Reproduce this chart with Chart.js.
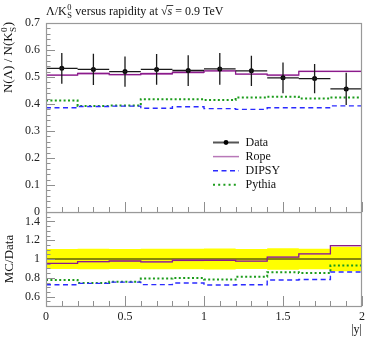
<!DOCTYPE html>
<html>
<head>
<meta charset="utf-8">
<script src="https://cdn.jsdelivr.net/npm/chart.js@4.4.1/dist/chart.umd.min.js"></script>
<style>
  body { margin: 0; background: #fff; }
  #wrap { position: relative; width: 374px; height: 338px; }
  canvas { position: absolute; left: 0; }
</style>
</head>
<body>
<div id="wrap">
  <canvas id="main" width="374" height="232" style="top:0"></canvas>
  <canvas id="ratio" width="374" height="126" style="top:212px"></canvas>
</div>
<script>
// |y| bins
const binEdges = [0, 0.2, 0.4, 0.6, 0.8, 1.0, 1.2, 1.4, 1.6, 1.8, 2.0];
const seriesNames = ['Data', 'Rope', 'DIPSY', 'Pythia'];

// measured Lambda/K0S ratio
const dataValues = [0.532, 0.528, 0.520, 0.528, 0.524, 0.530, 0.523, 0.497, 0.494, 0.456];
const dataErrors = [0.057, 0.058, 0.056, 0.057, 0.057, 0.059, 0.056, 0.057, 0.054, 0.060];

// generators
const ropeValues = [0.507, 0.513, 0.509, 0.512, 0.517, 0.523, 0.511, 0.507, 0.521, 0.521];
const ropeErrors = [0.003, 0.004, 0.003, 0.005, 0.005, 0.004, 0.003, 0.004, 0.003, 0.003];
const dipsyValues = [0.386, 0.391, 0.392, 0.384, 0.390, 0.383, 0.380, 0.386, 0.386, 0.393];
const pythiaValues = [0.413, 0.393, 0.394, 0.418, 0.418, 0.415, 0.424, 0.427, 0.420, 0.424];

const mainTicks = [0, 0.1, 0.2, 0.3, 0.4, 0.5, 0.6, 0.7];
const ratioTicks = [0.6, 0.8, 1, 1.2, 1.4];
const xTicks = [0, 0.5, 1, 1.5, 2];

const serif = '"Liberation Serif", "DejaVu Serif", serif';
Chart.defaults.font.family = serif;
Chart.defaults.font.size = 12;
Chart.defaults.color = '#222';

const colRope = '#8b1a8b';
const colRopeBand = 'rgba(190, 110, 190, 0.5)';
const colDipsy = '#2b2bff';
const colPythia = '#1c9c1c';

function steps(values) {
  return binEdges.map((x, i) => ({ x: x, y: values[Math.min(i, values.length - 1)] }));
}
function centres(values) {
  return values.map((v, i) => ({ x: (binEdges[i] + binEdges[i + 1]) / 2, y: v }));
}
function stepLine(label, values, color, width, dash) {
  return {
    label: label, data: steps(values), stepped: 'before',
    borderColor: color, borderWidth: width, borderDash: dash || [],
    pointRadius: 0, fill: false, order: 2
  };
}
function band(values, errors, color, order) {
  return [
    { data: steps(values.map((v, i) => v + errors[i])), stepped: 'before', borderWidth: 0, pointRadius: 0, fill: false, order: order },
    { data: steps(values.map((v, i) => v - errors[i])), stepped: 'before', borderWidth: 0, pointRadius: 0, fill: '-1', backgroundColor: color, order: order }
  ];
}
function ratioOf(values) {
  return values.map((v, i) => v / dataValues[i]);
}

// text with the K0S super/subscript and sqrt(s)
function richText(ctx, parts, x, y, size, draw) {
  let cx = x;
  parts.forEach(function(p) {
    if (typeof p === 'string') {
      ctx.font = size + 'px ' + serif;
      if (draw) ctx.fillText(p, cx, y);
      cx += ctx.measureText(p).width;
    } else if (p.sup !== undefined) {
      ctx.font = (size * 0.7) + 'px ' + serif;
      if (draw) {
        ctx.fillText(p.sup, cx + 0.5, y - size * 0.4);
        ctx.fillText(p.sub, cx + 0.5, y + size * 0.28);
      }
      cx += Math.max(ctx.measureText(p.sup).width, ctx.measureText(p.sub).width) + 1;
    } else {
      ctx.font = 'italic ' + size + 'px ' + serif;
      const w = ctx.measureText(p.text).width;
      if (draw) {
        ctx.fillText(p.text, cx, y);
        if (p.over) ctx.fillRect(cx - 1, y - size * 0.82, w + 2, 0.8);
      }
      cx += w;
    }
  });
  return cx - x;
}

function drawFrame(chart, yMajor, yMinor) {
  const ctx = chart.ctx, a = chart.chartArea;
  const x = chart.scales.x, y = chart.scales.y;
  ctx.save();
  ctx.strokeStyle = '#8f8f8f';
  ctx.lineWidth = 1;
  ctx.beginPath();
  const ny = Math.round((y.max - y.min) / yMinor);
  for (let k = 0; k <= ny; k++) {
    const v = y.min + k * yMinor;
    const major = Math.abs(v / yMajor - Math.round(v / yMajor)) < 1e-6;
    const py = Math.round(y.getPixelForValue(v)) + 0.5;
    ctx.moveTo(a.left, py);
    ctx.lineTo(a.left + (major ? 9 : 4.5), py);
  }
  const nx = Math.round((x.max - x.min) / 0.1);
  for (let k = 0; k <= nx; k++) {
    const v = x.min + k * 0.1;
    const major = k % 5 === 0;
    const px = Math.round(x.getPixelForValue(v)) + 0.5;
    ctx.moveTo(px, a.bottom);
    ctx.lineTo(px, a.bottom - (major ? 10 : 5));
  }
  ctx.stroke();
  ctx.strokeStyle = '#999';
  ctx.lineWidth = 1.2;
  ctx.strokeRect(a.left + 0.5, a.top + 0.5, a.right - a.left - 1, a.bottom - a.top);
  ctx.restore();
}

const mainPlugin = {
  id: 'mainExtras',
  afterDatasetsDraw(chart) {
    const ctx = chart.ctx, x = chart.scales.x, y = chart.scales.y;
    ctx.save();
    ctx.strokeStyle = '#1a1a1a';
    ctx.lineWidth = 1.3;
    ctx.beginPath();
    dataValues.forEach(function(v, i) {
      const xl = x.getPixelForValue(binEdges[i]);
      const xr = x.getPixelForValue(binEdges[i + 1]);
      const xc = x.getPixelForValue((binEdges[i] + binEdges[i + 1]) / 2);
      const py = y.getPixelForValue(v);
      ctx.moveTo(xl, py); ctx.lineTo(xr, py);
      ctx.moveTo(xc, y.getPixelForValue(v + dataErrors[i]));
      ctx.lineTo(xc, y.getPixelForValue(v - dataErrors[i]));
    });
    ctx.stroke();
    ctx.restore();
  },
  afterDraw(chart) {
    const ctx = chart.ctx, a = chart.chartArea;
    drawFrame(chart, 0.1, 0.02);
    ctx.save();
    ctx.fillStyle = '#111';
    ctx.textBaseline = 'alphabetic';
    // title
    richText(ctx, ['Λ/K', { sup: '0', sub: 'S' }, ' versus rapidity at √', { text: 's', over: true }, ' = 0.9 TeV'], a.left, 15, 12, true);
    // y label, rotated and ending at the top of the frame
    const yParts = ['N(Λ) / N(K', { sup: '0', sub: 'S' }, ')'];
    const w = richText(ctx, yParts, 0, 0, 13, false);
    ctx.save();
    ctx.translate(0, a.top - 1);
    ctx.rotate(-Math.PI / 2);
    richText(ctx, yParts, -w, 12, 13, true);
    ctx.restore();

    // legend
    const lx = a.left + 167, tx = a.left + 200;
    seriesNames.forEach(function(name, i) {
      const ly = a.top + 119.5 + i * 14.1;
      ctx.save();
      ctx.beginPath();
      if (i === 0) { ctx.strokeStyle = '#555'; ctx.lineWidth = 2; }
      if (i === 1) { ctx.strokeStyle = '#b878b8'; ctx.lineWidth = 1.5; }
      if (i === 2) { ctx.strokeStyle = colDipsy; ctx.lineWidth = 1.4; ctx.setLineDash([5, 3.5]); }
      if (i === 3) { ctx.strokeStyle = colPythia; ctx.lineWidth = 2; ctx.setLineDash([2, 3.2]); }
      ctx.moveTo(lx, ly); ctx.lineTo(lx + 26, ly);
      ctx.stroke();
      if (i === 0) {
        ctx.beginPath(); ctx.fillStyle = '#000';
        ctx.arc(lx + 13, ly, 2.4, 0, Math.PI * 2); ctx.fill();
      }
      ctx.restore();
      ctx.font = '12px ' + serif;
      ctx.fillStyle = '#111';
      ctx.textBaseline = 'middle';
      ctx.fillText(name, tx - 0.5, ly + 0.5);
    });
    ctx.restore();
  }
};

const ratioPlugin = {
  id: 'ratioExtras',
  afterDraw(chart) { drawFrame(chart, 0.2, 0.05); }
};

function yAxis(min, max, ticks, title) {
  return {
    type: 'linear', min: min, max: max,
    afterBuildTicks: s => { s.ticks = ticks.map(v => ({ value: v })); },
    afterFit: s => { s.width = 46; s.paddingTop = 0; s.paddingBottom = 0; },
    grid: { display: false, drawTicks: false },
    border: { display: false },
    ticks: { padding: 6, color: '#222', font: { size: 12 }, callback: v => String(+v.toFixed(2)) },
    title: title
  };
}

new Chart(document.getElementById('main'), {
  type: 'line',
  data: {
    datasets: [
      { label: 'Data', data: centres(dataValues), showLine: false, pointRadius: 2.5,
        pointBackgroundColor: '#000', pointBorderColor: '#000', pointBorderWidth: 0, order: 0 },
      stepLine('Rope', ropeValues, colRope, 1.3),
      stepLine('DIPSY', dipsyValues, colDipsy, 1.4, [5, 3.5]),
      stepLine('Pythia', pythiaValues, colPythia, 2, [2, 2.4])
    ].concat(band(ropeValues, ropeErrors, colRopeBand, 5))
  },
  options: {
    responsive: false, animation: false, devicePixelRatio: 1, events: [],
    layout: { padding: { top: 23, right: 12, bottom: 20, left: 0 } },
    plugins: { legend: { display: false }, tooltip: { enabled: false } },
    scales: {
      x: { type: 'linear', min: 0, max: 2, display: false },
      y: yAxis(0, 0.7, mainTicks, { display: false })
    }
  },
  plugins: [mainPlugin]
});

new Chart(document.getElementById('ratio'), {
  type: 'line',
  data: {
    datasets: [
      { data: [{ x: binEdges[0], y: 1 }, { x: binEdges[binEdges.length - 1], y: 1 }],
        borderColor: '#111', borderWidth: 1, pointRadius: 0, fill: false, order: 4 },
      stepLine('Rope', ratioOf(ropeValues), colRope, 1.3),
      stepLine('DIPSY', ratioOf(dipsyValues), colDipsy, 1.4, [5, 3.5]),
      stepLine('Pythia', ratioOf(pythiaValues), colPythia, 2, [2, 2.4])
    ].concat(band(ratioOf(ropeValues), ratioOf(ropeErrors), colRopeBand, 3))
     .concat(band(dataValues.map(() => 1), ratioOf(dataErrors), '#ffff00', 9))
  },
  options: {
    responsive: false, animation: false, devicePixelRatio: 1, events: [],
    layout: { padding: { top: 0, right: 12, bottom: 0, left: 0 } },
    plugins: { legend: { display: false }, tooltip: { enabled: false } },
    scales: {
      x: {
        type: 'linear', min: 0, max: 2,
        afterBuildTicks: s => { s.ticks = xTicks.map(v => ({ value: v })); },
        afterFit: s => { s.height = 32; s.paddingLeft = 0; s.paddingRight = 0; },
        grid: { display: false, drawTicks: false },
        border: { display: false },
        ticks: { padding: 4, color: '#222', font: { size: 12 }, maxRotation: 0, callback: v => String(v) },
        title: { display: true, text: '|y|', align: 'end', color: '#111', font: { size: 12 }, padding: { top: 0, bottom: 1 } }
      },
      y: yAxis(0.5, 1.5, ratioTicks, { display: true, text: 'MC/Data', color: '#111', font: { size: 13 }, padding: { top: 2, bottom: 0 } })
    }
  },
  plugins: [ratioPlugin]
});
</script>
</body>
</html>
